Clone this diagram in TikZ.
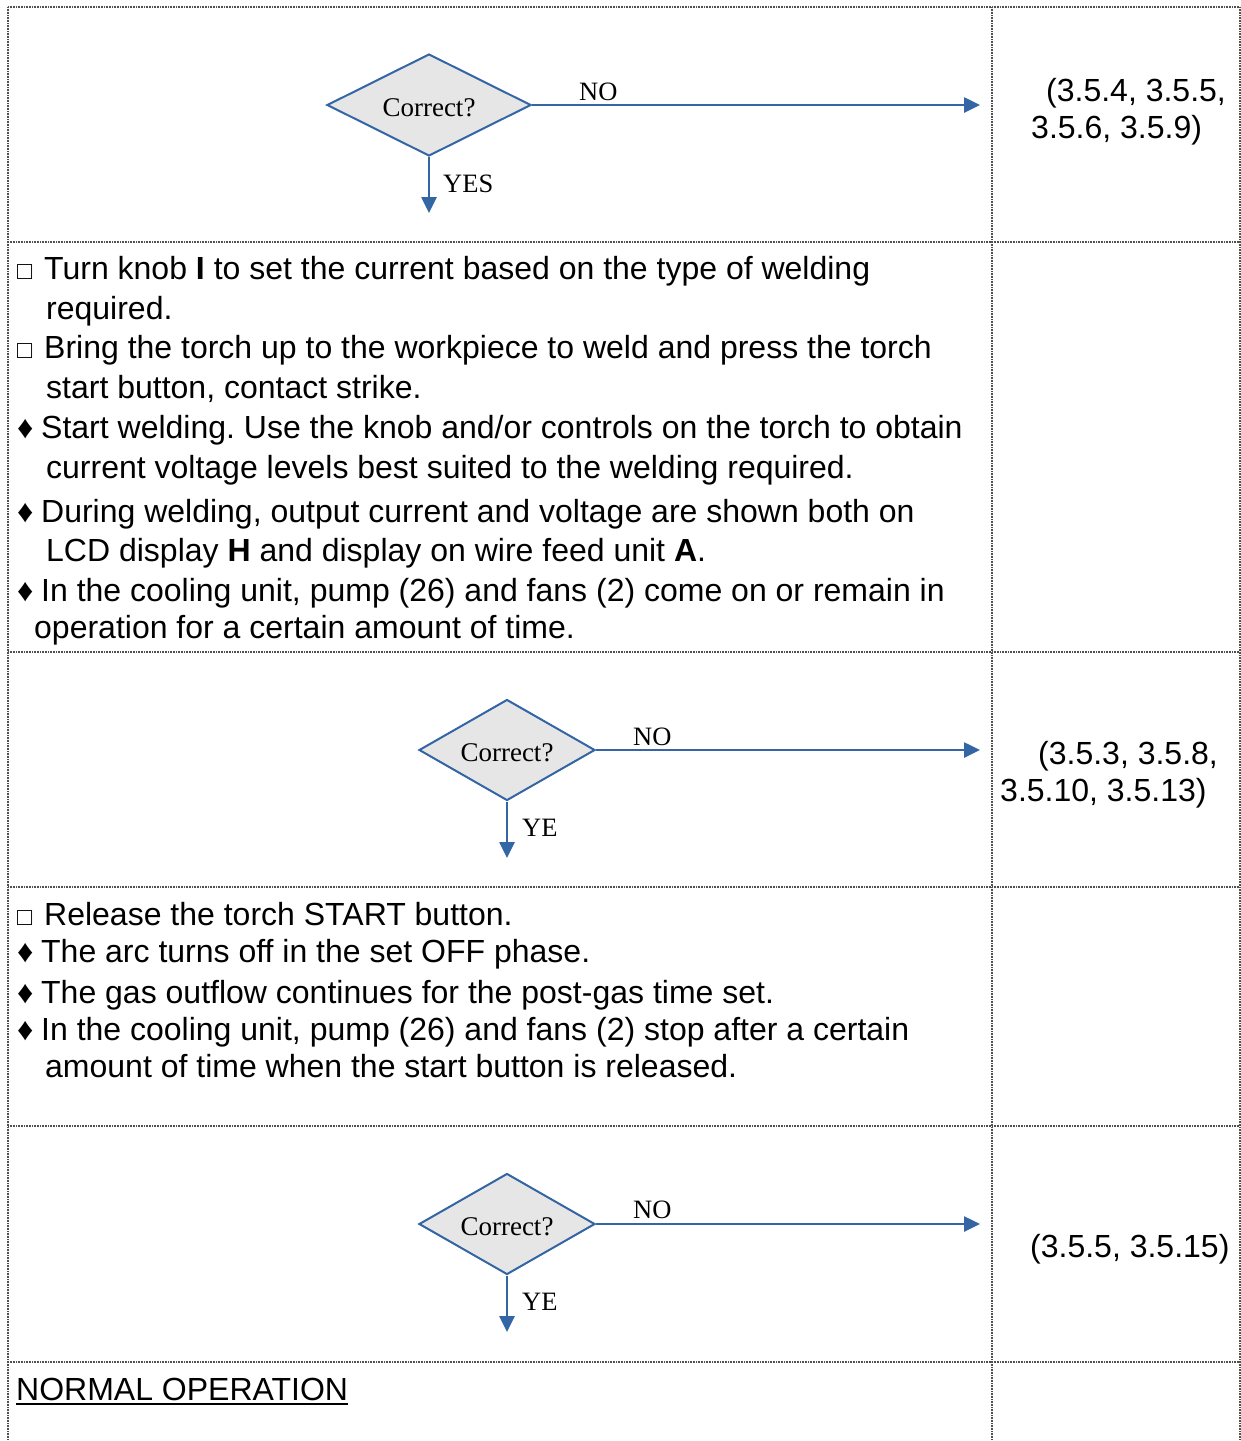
\documentclass[tikz,border=0pt]{standalone}
\usepackage{fontspec}
\setmainfont{Liberation Sans}
\newfontfamily\serifface{Liberation Serif}
\usetikzlibrary{shapes.geometric,arrows.meta}
\definecolor{flowblue}{RGB}{52,101,164}
\definecolor{diafill}{RGB}{230,230,230}
\definecolor{gridgrey}{RGB}{80,80,80}
\newcommand\mysq{\makebox[27pt][l]{\fontsize{25}{25}\selectfont □}}
\newcommand\mydia{\makebox[24pt][l]{\fontsize{32}{32}\selectfont ♦}}
\newcommand\lowered[1]{\raisebox{-3pt}[\height][0pt]{#1}}
\frenchspacing
\begin{document}
\begin{tikzpicture}[x=1pt,y=-1pt,
  grid/.style={draw=gridgrey,line width=1.2pt,dash pattern=on 1pt off 0.6pt},
  decision/.style={diamond,draw=flowblue,fill=diafill,line width=2pt,inner sep=0pt,aspect=2,font=\serifface\fontsize{27}{27}\selectfont},
  flow/.style={draw=flowblue,line width=2.6pt,-{Triangle[length=16pt,width=15pt]}},
  lbl/.style={anchor=base west,inner sep=0pt,font=\serifface\fontsize{26.5}{26.5}\selectfont},
  body/.style={anchor=base west,inner sep=0pt,font=\fontsize{32}{39}\selectfont},
  refs/.style={anchor=base west,inner sep=0pt,font=\fontsize{32}{37}\selectfont},
]
\useasboundingbox (0,0) rectangle (1241,1441);
\fill[white] (0,0) rectangle (1241,1441);

% table grid
\draw[grid] (8,7) -- (1240,7);
\draw[grid] (8,7) -- (8,1441);
\draw[grid] (992,7) -- (992,1441);
\draw[grid] (1240,7) -- (1240,1441);
\foreach \yy in {242,652,887,1126,1362} \draw[grid] (8,\yy) -- (1240,\yy);

% decision 1
\node[decision,minimum width=204pt,minimum height=102pt] (d1) at (429,105) {\lowered{Correct?}};
\coordinate (n1) at (980,105);
\coordinate (y1) at (429,213);
\draw[flow] (d1.east) -- (n1);
\draw[flow] (d1.south) -- (y1);
\node[lbl] (no1) at (579,100) {NO};
\node[lbl] (yes1) at (443,192) {YES};
\node[refs] (r1a) at (1046,101) {(3.5.4, 3.5.5,};
\node[refs] (r1b) at (1031,138) {3.5.6, 3.5.9)};

% section 2 text
\node[body] (t1) at (17,279) {\mysq Turn knob \textbf{I} to set the current based on the type of welding};
\node[body] (t2) at (46,319) {required.};
\node[body] (t3) at (17,358) {\mysq Bring the torch up to the workpiece to weld and press the torch};
\node[body] (t4) at (46,398) {start button, contact strike.};
\node[body] (t5) at (17,438) {\mydia Start welding. Use the knob and/or controls on the torch to obtain};
\node[body] (t6) at (46,478) {current voltage levels best suited to the welding required.};
\node[body] (t7) at (17,522) {\mydia During welding, output current and voltage are shown both on};
\node[body] (t8) at (46,561) {LCD display \textbf{H} and display on wire feed unit \textbf{A}.};
\node[body] (t9) at (17,601) {\mydia In the cooling unit, pump (26) and fans (2) come on or remain in};
\node[body] (t10) at (34,638) {operation for a certain amount of time.};

% decision 2
\node[decision,minimum width=176pt,minimum height=101pt] (d2) at (507,750) {\lowered{Correct?}};
\coordinate (n2) at (980,750);
\coordinate (y2) at (507,858);
\draw[flow] (d2.east) -- (n2);
\draw[flow] (d2.south) -- (y2);
\node[lbl] (no2) at (633,745) {NO};
\node[lbl] (ye2) at (522,836) {YE};
\node[refs] (r2a) at (1038,764) {(3.5.3, 3.5.8,};
\node[refs] (r2b) at (1000,801) {3.5.10, 3.5.13)};

% section 4 text
\node[body] (u1) at (17,925) {\mysq Release the torch START button.};
\node[body] (u2) at (17,962) {\mydia The arc turns off in the set OFF phase.};
\node[body] (u3) at (17,1003) {\mydia The gas outflow continues for the post-gas time set.};
\node[body] (u4) at (17,1040) {\mydia In the cooling unit, pump (26) and fans (2) stop after a certain};
\node[body] (u5) at (45,1077) {amount of time when the start button is released.};

% decision 3
\node[decision,minimum width=176pt,minimum height=101pt] (d3) at (507,1224) {\lowered{Correct?}};
\coordinate (n3) at (980,1224);
\coordinate (y3) at (507,1332);
\draw[flow] (d3.east) -- (n3);
\draw[flow] (d3.south) -- (y3);
\node[lbl] (no3) at (633,1218) {NO};
\node[lbl] (ye3) at (522,1310) {YE};
\node[refs] (r3) at (1030,1257) {(3.5.5, 3.5.15)};

% heading
\node[body] (hd) at (16,1400) {NORMAL OPERATION};
\draw[line width=2.2pt] ([yshift=-4pt]hd.base west) -- ([yshift=-4pt]hd.base east);
\end{tikzpicture}
\end{document}
